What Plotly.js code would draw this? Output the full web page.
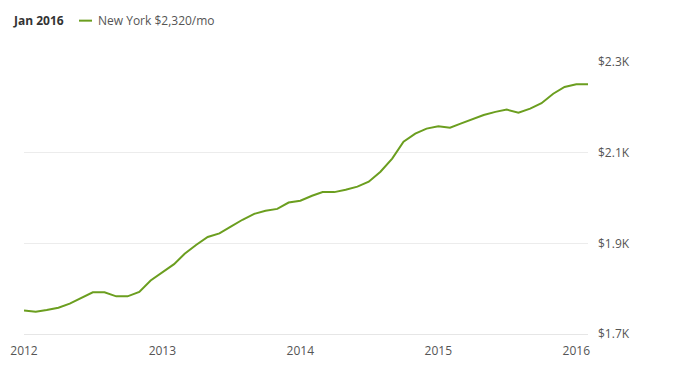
<!DOCTYPE html>
<html>
<head>
<meta charset="utf-8">
<script src="https://cdn.plot.ly/plotly-3.0.1.min.js"></script>
<style>html,body{margin:0;padding:0;background:#fff;}#chart{width:696px;height:372px;}</style>
</head>
<body>
<div id="chart"></div>
<script>
// Monthly rent, New York, Jan 2012 – Feb 2016
var months = [
  "2012-01","2012-02","2012-03","2012-04","2012-05","2012-06","2012-07","2012-08","2012-09","2012-10","2012-11","2012-12",
  "2013-01","2013-02","2013-03","2013-04","2013-05","2013-06","2013-07","2013-08","2013-09","2013-10","2013-11","2013-12",
  "2014-01","2014-02","2014-03","2014-04","2014-05","2014-06","2014-07","2014-08","2014-09","2014-10","2014-11","2014-12",
  "2015-01","2015-02","2015-03","2015-04","2015-05","2015-06","2015-07","2015-08","2015-09","2015-10","2015-11","2015-12",
  "2016-01","2016-02"
];
var rent = [
  1752,1749,1753,1758,1767,1780,1792,1792,1783,1783,1793,1818,
  1835,1854,1877,1897,1914,1922,1937,1952,1965,1972,1976,1990,
  1994,2005,2013,2013,2018,2025,2036,2058,2087,2124,2142,2153,
  2158,2155,2164,2173,2183,2190,2195,2188,2197,2209,2230,2245,
  2251,2251
];
var yTicks = [1700, 1900, 2100, 2300];
var yTickText = ["$1.7K", "$1.9K", "$2.1K", "$2.3K"];
var xTicks = ["2012-01-01","2013-01-01","2014-01-01","2015-01-01","2016-01-01"];
var xTickText = ["2012","2013","2014","2015","2016"];
var seriesName = "New York $2,320/mo";
var headerDate = "Jan 2016";
var lineColor = "#6b9e1f";

var trace = {
  x: months.map(function(m){ return m + "-01"; }),
  y: rent,
  type: "scatter",
  mode: "lines",
  name: seriesName,
  line: {color: lineColor, width: 2},
  hoverinfo: "skip"
};

var layout = {
  width: 696,
  height: 372,
  paper_bgcolor: "#fff",
  plot_bgcolor: "#fff",
  showlegend: false,
  margin: {l: 24, r: 108, t: 61.5, b: 37.5, pad: 0},
  font: {family: "Open Sans, sans-serif", size: 12, color: "#555"},
  xaxis: {
    type: "date",
    range: ["2012-01-01", "2016-02-01"],
    tickvals: xTicks,
    ticktext: xTickText,
    showgrid: false,
    zeroline: false,
    showline: true,
    linecolor: "#e6e6e6",
    linewidth: 1,
    ticks: "",
    ticklabelstandoff: 6,
    tickfont: {size: 12, color: "#555"},
    fixedrange: true
  },
  yaxis: {
    side: "right",
    range: [1700, 2300],
    tickvals: yTicks,
    ticktext: yTickText,
    showgrid: true,
    gridcolor: "#ececec",
    gridwidth: 1,
    zeroline: false,
    showline: false,
    ticks: "",
    ticklabelstandoff: 9,
    tickfont: {size: 12, color: "#555"},
    fixedrange: true
  },
  shapes: [{
    type: "line",
    xref: "paper", yref: "paper",
    x0: (79 - 24) / 564, x1: (92 - 24) / 564,
    y0: (334.5 - 20) / 273, y1: (334.5 - 20) / 273,
    line: {color: lineColor, width: 2}
  }],
  annotations: [
    {
      text: "<b>" + headerDate + "</b>",
      xref: "paper", yref: "paper",
      x: (11 - 24) / 564, y: (334.5 - 20) / 273,
      xanchor: "left", yanchor: "middle",
      showarrow: false,
      font: {size: 12, color: "#333", family: "Open Sans, sans-serif"}
    },
    {
      text: seriesName,
      xref: "paper", yref: "paper",
      x: (96 - 24) / 564, y: (334.5 - 20) / 273,
      xanchor: "left", yanchor: "middle",
      showarrow: false,
      font: {size: 12, color: "#555", family: "Open Sans, sans-serif"}
    }
  ]
};

Plotly.newPlot("chart", [trace], layout, {displayModeBar: false, staticPlot: true});
</script>
</body>
</html>
